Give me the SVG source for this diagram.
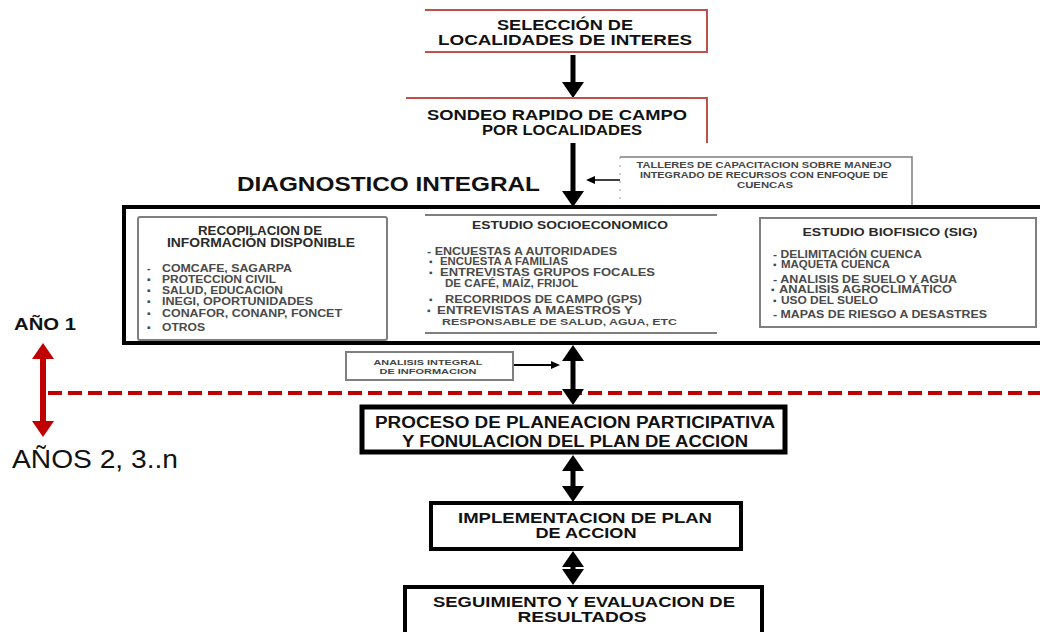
<svg xmlns="http://www.w3.org/2000/svg" width="1040" height="632" viewBox="0 0 1040 632">
<defs>
<style>
text{font-family:"Liberation Sans",Arial,sans-serif;}
.h{font-weight:bold;fill:#111;}
.t{font-weight:bold;fill:#2a2a2a;}
.li{font-weight:bold;fill:#4a4a4a;}
.sm{font-weight:bold;fill:#444;}
.red{fill:none;stroke:#c0504d;stroke-width:2;}
.gbox{fill:#fff;stroke:#7f7f7f;stroke-width:2;}
.kbox{fill:#fff;stroke:#000;}
.thick{stroke:#000;stroke-width:5;fill:none;}
.thin{stroke:#000;stroke-width:2;fill:none;}
</style>
<marker id="ah" viewBox="0 0 16 22" markerWidth="16" markerHeight="22" refX="6" refY="11" orient="auto-start-reverse" markerUnits="userSpaceOnUse"><path d="M0,0 L16,11 L0,22 z" fill="#000"/></marker>
<marker id="as" viewBox="0 0 9 8" markerWidth="9" markerHeight="8" refX="7" refY="4" orient="auto-start-reverse" markerUnits="userSpaceOnUse"><path d="M0,0 L9,4 L0,8 z" fill="#000"/></marker>
<marker id="ar" viewBox="0 0 16 22" markerWidth="16" markerHeight="22" refX="6" refY="11" orient="auto-start-reverse" markerUnits="userSpaceOnUse"><path d="M0,0 L16,11 L0,22 z" fill="#c00000"/></marker>
</defs>
<rect width="1040" height="632" fill="#fff"/>

<g id="connectors">
<line x1="48" y1="393" x2="1040" y2="393" stroke="#c00000" stroke-width="4" stroke-dasharray="14 6"/>
<line x1="43" y1="353" x2="43" y2="427" stroke="#c00000" stroke-width="6" marker-start="url(#ar)" marker-end="url(#ar)"/>
<line class="thick" x1="573" y1="55" x2="573" y2="88" marker-end="url(#ah)"/>
<line class="thick" x1="573" y1="143" x2="573" y2="197" marker-end="url(#ah)"/>
<line stroke="#000" stroke-width="1.5" x1="620" y1="180" x2="588" y2="180" marker-end="url(#as)"/>
<line class="thin" x1="395" y1="283" x2="412" y2="283" marker-start="url(#as)" marker-end="url(#as)"/>
<line class="thin" x1="726" y1="278" x2="752" y2="278" marker-start="url(#as)" marker-end="url(#as)"/>
<line class="thick" x1="573" y1="355" x2="573" y2="395" marker-start="url(#ah)" marker-end="url(#ah)"/>
<line class="thin" x1="513" y1="365" x2="558" y2="365" marker-end="url(#as)"/>
<line class="thick" x1="573" y1="465" x2="573" y2="492" marker-start="url(#ah)" marker-end="url(#ah)"/>
<line class="thick" x1="573" y1="561" x2="573" y2="575" marker-start="url(#ah)" marker-end="url(#ah)"/>
</g>

<g id="seleccion">
<path class="red" d="M425,10 H707 V52 H425"/>
<text class="h" font-size="14" text-anchor="middle" x="565" y="30" textLength="136" lengthAdjust="spacingAndGlyphs">SELECCIÓN DE</text>
<text class="h" font-size="14" text-anchor="middle" x="565" y="45" textLength="254" lengthAdjust="spacingAndGlyphs">LOCALIDADES DE INTERES</text>
</g>

<g id="sondeo">
<path class="red" d="M406,98 H707 V143"/>
<text class="h" font-size="14" text-anchor="middle" x="557" y="120" textLength="260" lengthAdjust="spacingAndGlyphs">SONDEO RAPIDO DE CAMPO</text>
<text class="h" font-size="14" text-anchor="middle" x="562" y="135" textLength="160" lengthAdjust="spacingAndGlyphs">POR LOCALIDADES</text>
</g>

<g id="talleres">
<path d="M620,157 H912 V206" fill="none" stroke="#7f7f7f" stroke-width="1.5"/>
<path d="M620,157 V206" fill="none" stroke="#9a9a9a" stroke-width="1" stroke-dasharray="2 6"/>
<text class="sm" font-size="8.5" text-anchor="middle" x="764" y="168" textLength="255" lengthAdjust="spacingAndGlyphs">TALLERES  DE CAPACITACION SOBRE MANEJO</text>
<text class="sm" font-size="8.5" text-anchor="middle" x="764" y="178" textLength="248" lengthAdjust="spacingAndGlyphs">INTEGRADO DE RECURSOS CON ENFOQUE DE</text>
<text class="sm" font-size="8.5" text-anchor="middle" x="765" y="188" textLength="56" lengthAdjust="spacingAndGlyphs">CUENCAS</text>
</g>

<g id="diagnostico-titulo">
<text class="h" font-size="21" x="237" y="191" textLength="303" lengthAdjust="spacingAndGlyphs">DIAGNOSTICO INTEGRAL</text>
</g>

<g id="diagnostico">
<rect class="kbox" x="124" y="207" width="940" height="136" stroke-width="4"/>
</g>

<g id="recopilacion">
<rect class="gbox" x="138" y="217" width="249" height="123" rx="2"/>
<text class="t" font-size="12" text-anchor="middle" x="260" y="235" textLength="124" lengthAdjust="spacingAndGlyphs">RECOPILACION DE</text>
<text class="t" font-size="12" text-anchor="middle" x="261" y="247" textLength="188" lengthAdjust="spacingAndGlyphs">INFORMACIÓN DISPONIBLE</text>
<g class="li" font-size="10.5">
<text x="147" y="272">-</text><text x="162" y="272" textLength="130" lengthAdjust="spacingAndGlyphs">COMCAFE, SAGARPA</text>
<text x="147" y="283">▪</text><text x="162" y="283" textLength="114" lengthAdjust="spacingAndGlyphs">PROTECCION CIVIL</text>
<text x="147" y="294">▪</text><text x="162" y="294" textLength="121" lengthAdjust="spacingAndGlyphs">SALUD, EDUCACION</text>
<text x="147" y="305">▪</text><text x="162" y="305" textLength="151" lengthAdjust="spacingAndGlyphs">INEGI, OPORTUNIDADES</text>
<text x="147" y="317">▪</text><text x="162" y="317" textLength="180" lengthAdjust="spacingAndGlyphs">CONAFOR, CONANP, FONCET</text>
<text x="147" y="331">▪</text><text x="162" y="331" textLength="43" lengthAdjust="spacingAndGlyphs">OTROS</text>
</g>
</g>

<g id="socioeconomico">
<line x1="425" y1="215" x2="717" y2="215" stroke="#7f7f7f" stroke-width="2"/>
<line x1="425" y1="333" x2="717" y2="333" stroke="#7f7f7f" stroke-width="2"/>
<text class="t" font-size="11" text-anchor="middle" x="570" y="229" textLength="196" lengthAdjust="spacingAndGlyphs">ESTUDIO SOCIOECONOMICO</text>
<g class="li" font-size="10">
<text x="427" y="255" textLength="190" lengthAdjust="spacingAndGlyphs">- ENCUESTAS A AUTORIDADES</text>
<text x="429" y="265">▪</text><text x="440" y="265" textLength="128" lengthAdjust="spacingAndGlyphs">ENCUESTA A FAMILIAS</text>
<text x="429" y="276">▪</text><text x="440" y="276" textLength="215" lengthAdjust="spacingAndGlyphs">ENTREVISTAS GRUPOS FOCALES</text>
<text x="445" y="287" textLength="133" lengthAdjust="spacingAndGlyphs">DE CAFÉ, MAÍZ, FRIJOL</text>
<text x="429" y="303">▪</text><text x="445" y="303" textLength="197" lengthAdjust="spacingAndGlyphs">RECORRIDOS DE CAMPO (GPS)</text>
<text x="427" y="314">▪</text><text x="437" y="314" textLength="196" lengthAdjust="spacingAndGlyphs">ENTREVISTAS A MAESTROS Y</text>
<text x="442" y="325" font-size="8.5" textLength="235" lengthAdjust="spacingAndGlyphs">RESPONSABLE DE SALUD, AGUA, ETC</text>
</g>
</g>

<g id="biofisico">
<rect class="gbox" x="760" y="218" width="276" height="109"/>
<text class="t" font-size="10.5" text-anchor="middle" x="890" y="236" textLength="175" lengthAdjust="spacingAndGlyphs">ESTUDIO BIOFISICO (SIG)</text>
<g class="li" font-size="10">
<text x="773" y="258" textLength="149" lengthAdjust="spacingAndGlyphs">- DELIMITACIÓN CUENCA</text>
<text x="773" y="268">▪</text><text x="781" y="268" textLength="109" lengthAdjust="spacingAndGlyphs">MAQUETA CUENCA</text>
<text x="773" y="283" textLength="184" lengthAdjust="spacingAndGlyphs">- ANALISIS DE SUELO Y AGUA</text>
<text x="771" y="293">▪</text><text x="779" y="293" textLength="173" lengthAdjust="spacingAndGlyphs">ANALISIS AGROCLIMÁTICO</text>
<text x="773" y="304">▪</text><text x="781" y="304" textLength="97" lengthAdjust="spacingAndGlyphs">USO DEL SUELO</text>
<text x="773" y="318" textLength="214" lengthAdjust="spacingAndGlyphs">- MAPAS DE RIESGO A DESASTRES</text>
</g>
</g>

<g id="analisis">
<rect class="gbox" x="346" y="352" width="167" height="28"/>
<text class="sm" font-size="7.5" text-anchor="middle" x="428" y="365" textLength="109" lengthAdjust="spacingAndGlyphs">ANALISIS INTEGRAL</text>
<text class="sm" font-size="7.5" text-anchor="middle" x="428" y="374" textLength="97" lengthAdjust="spacingAndGlyphs">DE INFORMACION</text>
</g>

<g id="anio1">
<text class="h" font-size="16" x="14" y="330" textLength="62" lengthAdjust="spacingAndGlyphs">AÑO 1</text>
</g>

<g id="anios2">
<text font-size="26" fill="#111" x="12" y="468" textLength="166" lengthAdjust="spacingAndGlyphs">AÑOS 2, 3..n</text>
</g>

<g id="proceso">
<rect class="kbox" x="362" y="407" width="423" height="45" stroke-width="5"/>
<text class="h" font-size="16" text-anchor="middle" x="575" y="428" textLength="400" lengthAdjust="spacingAndGlyphs">PROCESO DE PLANEACION PARTICIPATIVA</text>
<text class="h" font-size="16" text-anchor="middle" x="575" y="447" textLength="346" lengthAdjust="spacingAndGlyphs">Y FONULACION DEL PLAN DE ACCION</text>
</g>

<g id="implementacion">
<rect class="kbox" x="431" y="503" width="310" height="46" stroke-width="4"/>
<text class="h" font-size="14" text-anchor="middle" x="585" y="523" textLength="254" lengthAdjust="spacingAndGlyphs">IMPLEMENTACION DE PLAN</text>
<text class="h" font-size="14" text-anchor="middle" x="586" y="538" textLength="101" lengthAdjust="spacingAndGlyphs">DE ACCION</text>
</g>

<g id="seguimiento">
<rect class="kbox" x="405" y="587" width="357" height="50" stroke-width="4"/>
<text class="h" font-size="14" text-anchor="middle" x="584" y="607" textLength="302" lengthAdjust="spacingAndGlyphs">SEGUIMIENTO Y EVALUACION DE</text>
<text class="h" font-size="14" text-anchor="middle" x="582" y="622" textLength="129" lengthAdjust="spacingAndGlyphs">RESULTADOS</text>
</g>
</svg>
